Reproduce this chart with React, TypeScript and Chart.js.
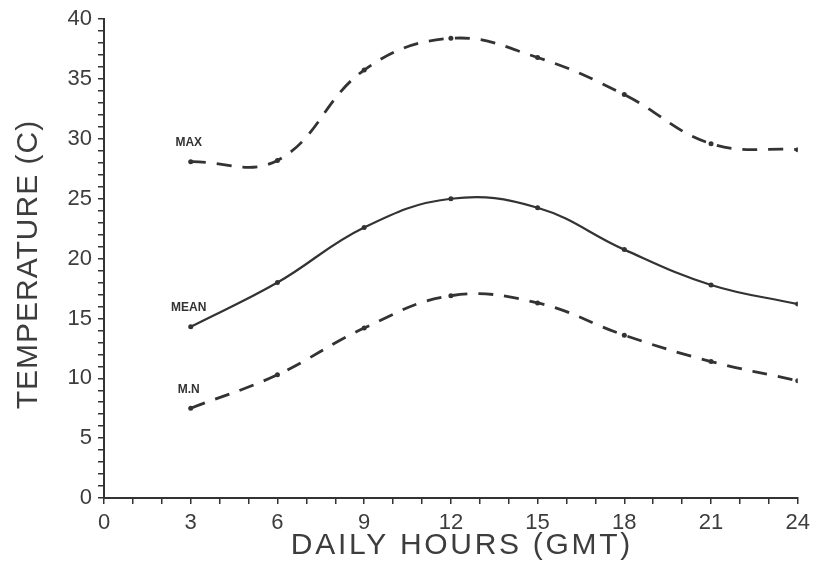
import React, { useEffect, useRef } from 'react';
import { Chart, registerables } from 'chart.js';

Chart.register(...registerables);

const hours = [3, 6, 9, 12, 15, 18, 21, 24];
const maxTemp = [28.1, 28.2, 35.75, 38.4, 36.8, 33.7, 29.6, 29.1];
const meanTemp = [14.3, 18.0, 22.6, 25.0, 24.25, 20.75, 17.8, 16.2];
const minTemp = [7.5, 10.3, 14.2, 16.9, 16.3, 13.6, 11.4, 9.8];
const seriesLabels = ['MAX', 'MEAN', 'M.N'];
const xTickLabels = ['0', '3', '6', '9', '12', '15', '18', '21', '24'];
const yTickLabels = ['0', '5', '10', '15', '20', '25', '30', '35', '40'];
const xTitle = 'DAILY HOURS (GMT)';
const yTitle = 'TEMPERATURE (C)';

const INK = '#333333';
const TEXT = '#3d3d3d';

const seriesLabelPlugin = {
  id: 'seriesLabels',
  afterDatasetsDraw(chart: any) {
    const ctx = chart.ctx;
    ctx.save();
    ctx.fillStyle = INK;
    ctx.font = 'bold 12px "Liberation Sans", sans-serif';
    ctx.textAlign = 'center';
    ctx.textBaseline = 'middle';
    chart.data.datasets.forEach((ds: any, i: number) => {
      const meta = chart.getDatasetMeta(i);
      const p = meta.data[0];
      if (!p) return;
      ctx.fillText(seriesLabels[i], p.x - 2, p.y - 19);
    });
    ctx.restore();
  },
};

const axisTitlePlugin = {
  id: 'axisTitles',
  afterDraw(chart: any) {
    const ctx = chart.ctx;
    const area = chart.chartArea;
    ctx.save();
    ctx.fillStyle = TEXT;
    ctx.textAlign = 'center';
    ctx.textBaseline = 'middle';
    ctx.font = '30px "Liberation Sans", sans-serif';
    (ctx as any).letterSpacing = '2.7px';
    ctx.fillText(xTitle, (area.left + area.right) / 2 + 11, area.bottom + 48);
    (ctx as any).letterSpacing = '1px';
    ctx.translate(area.left - 75, (area.top + area.bottom) / 2 + 6);
    ctx.rotate(-Math.PI / 2);
    ctx.fillText(yTitle, 0, 0);
    ctx.restore();
  },
};

export default function App() {
  const canvasRef = useRef<HTMLCanvasElement | null>(null);

  useEffect(() => {
    if (!canvasRef.current) return;
    const mk = (vals: number[]) => hours.map((h, i) => ({ x: h, y: vals[i] }));
    const common = {
      borderColor: INK,
      backgroundColor: INK,
      pointRadius: 2.5,
      pointBackgroundColor: INK,
      pointBorderWidth: 0,
      tension: 0.4,
      fill: false,
    };
    const chart = new Chart(canvasRef.current, {
      type: 'line',
      data: {
        datasets: [
          { ...common, label: seriesLabels[0], data: mk(maxTemp), borderWidth: 2.8, borderDash: [15, 11] },
          { ...common, label: seriesLabels[1], data: mk(meanTemp), borderWidth: 2.2 },
          { ...common, label: seriesLabels[2], data: mk(minTemp), borderWidth: 2.8, borderDash: [15, 11] },
        ],
      },
      options: {
        animation: false,
        responsive: false,
        devicePixelRatio: 1,
        layout: { padding: { top: 16, right: 18, left: 0, bottom: 0 } },
        plugins: {
          legend: { display: false },
          tooltip: { enabled: false },
        },
        scales: {
          x: {
            type: 'linear',
            min: 0,
            max: 24,
            afterFit: (s: any) => { s.height = 68; },
            border: { display: true, color: INK, width: 2 },
            grid: { display: true, drawOnChartArea: false, drawTicks: true, tickLength: 6, color: INK, lineWidth: 1.5 },
            ticks: {
              stepSize: 1,
              autoSkip: false,
              maxRotation: 0,
              padding: 6,
              color: TEXT,
              font: { family: '"Liberation Sans", sans-serif', size: 22 },
              callback: (v: any) => (xTickLabels.includes(String(v)) ? String(v) : ''),
            },
            title: { display: false },
          },
          y: {
            type: 'linear',
            min: 0,
            max: 40,
            afterFit: (s: any) => { s.width = 104; },
            border: { display: true, color: INK, width: 2 },
            grid: { display: true, drawOnChartArea: false, drawTicks: true, tickLength: 6, color: INK, lineWidth: 1.5 },
            ticks: {
              stepSize: 1,
              autoSkip: false,
              padding: 6,
              color: TEXT,
              font: { family: '"Liberation Sans", sans-serif', size: 22 },
              callback: (v: any) => (yTickLabels.includes(String(v)) ? String(v) : ''),
            },
            title: { display: false },
          },
        },
      },
      plugins: [seriesLabelPlugin, axisTitlePlugin],
    } as any);
    return () => chart.destroy();
  }, []);

  return (
    <div style={{ position: 'absolute', left: 0, top: 0, width: 816, height: 566, background: '#fff' }}>
      <canvas ref={canvasRef} width={816} height={566} style={{ display: 'block' }} />
    </div>
  );
}
